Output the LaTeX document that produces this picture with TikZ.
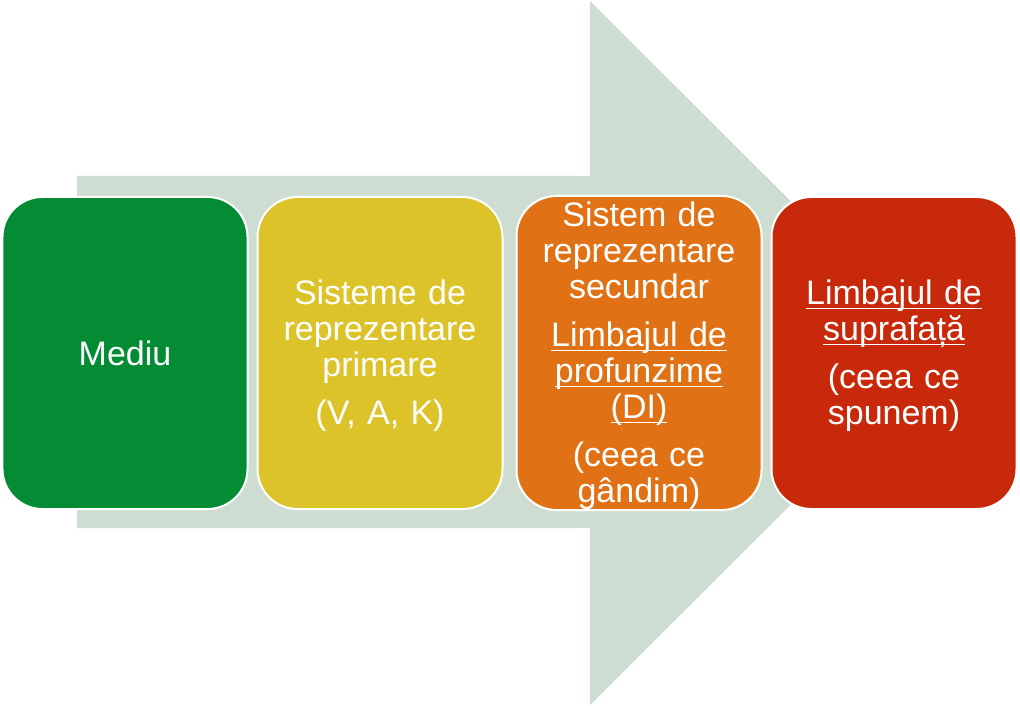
\documentclass[tikz,border=0pt]{standalone}
\usepackage{fontspec}
\setmainfont{Liberation Sans}
\definecolor{arrowgray}{HTML}{CEDDD1}
\definecolor{boxgreen}{HTML}{038C34}
\definecolor{boxyellow}{HTML}{DDC32A}
\definecolor{boxorange}{HTML}{E07115}
\definecolor{boxred}{HTML}{C8290A}
\newcommand\myul[1]{\leavevmode\setbox0\hbox{#1}\rlap{\rule[-4.5bp]{\wd0}{1.8bp}}\box0}
\newcommand\topstrut{\rule{0pt}{31bp}}
\tikzset{
  stage/.style={rectangle, rounded corners=40bp, draw=white, line width=2bp,
    minimum width=245bp, minimum height=312bp, inner sep=0pt,
    text=white, align=center, text width=240bp,
    font=\fontsize{34bp}{36bp}\selectfont}
}
\begin{document}
\begin{tikzpicture}[x=1bp,y=-1bp]
\useasboundingbox (0,0) rectangle (1020,706);
\fill[arrowgray] (77,176) -- (590,176) -- (590,1) -- (943,353) -- (590,705) -- (590,528) -- (77,528) -- cycle;
\node[stage, fill=boxgreen] (mediu) at (125,353) {Mediu};
\node[stage, fill=boxyellow] (primar) at (380,353) {\topstrut Sisteme de\\reprezentare\\primare\\[12bp](V, A, K)};
\node[stage, fill=boxorange] (secundar) at (639,353) {\topstrut Sistem de\\reprezentare\\secundar\\[12bp]\myul{Limbajul de}\\\myul{profunzime}\\\myul{(DI)}\\[12bp](ceea ce\\gândim)};
\node[stage, fill=boxred] (suprafata) at (894,353) {\topstrut\myul{Limbajul de}\\\myul{suprafață}\\[12bp](ceea ce\\spunem)};
\end{tikzpicture}
\end{document}
